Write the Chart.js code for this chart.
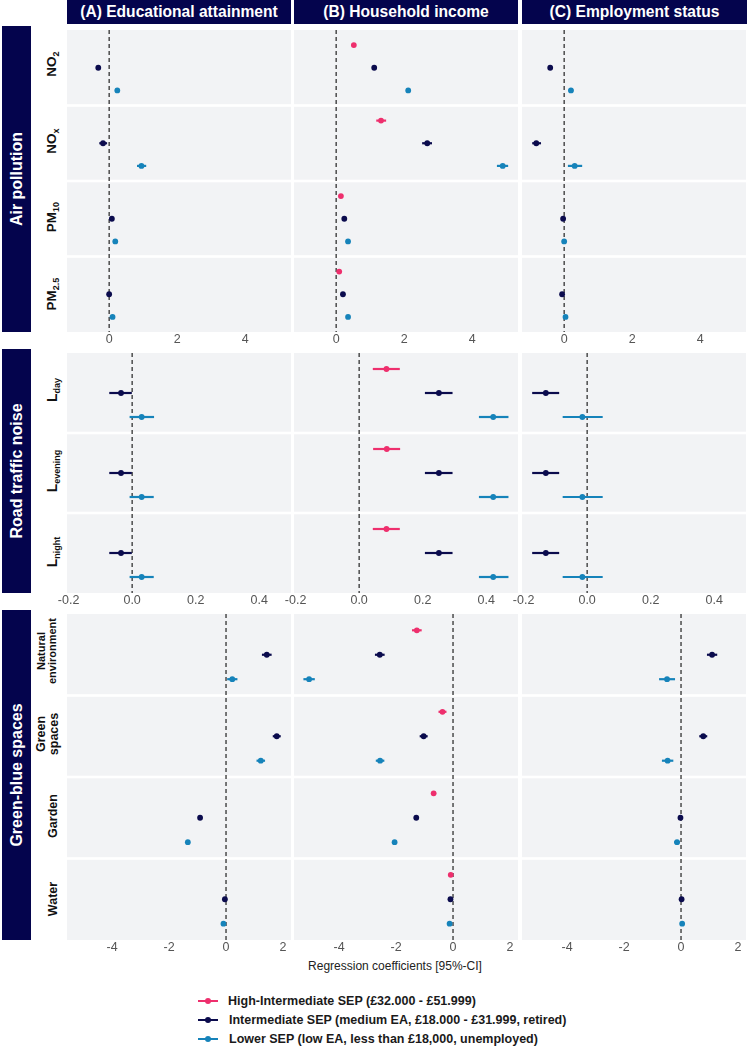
<!DOCTYPE html>
<html>
<head>
<meta charset="utf-8">
<script src="https://cdn.jsdelivr.net/npm/chart.js@4.4.1/dist/chart.umd.min.js"></script>
<style>
  body { margin: 0; background: #fff; }
  #root { position: relative; width: 750px; height: 1048px; overflow: hidden;
          font-family: "Liberation Sans", Arial, Helvetica, sans-serif; color: #1a1a1a; }
  .hdr { position: absolute; top: 0; height: 24px; background: #04044d; color: #fff;
         font-weight: bold; font-size: 15.6px; display: flex; align-items: center; justify-content: center; }
  .strip { position: absolute; left: 2px; width: 29px; background: #04044d; }
  .rot { position: absolute; transform: translate(-50%, -50%) rotate(-90deg); white-space: nowrap;
         text-align: center; font-weight: bold; }
  .sub { font-size: 9px; vertical-align: -3px; }
  canvas { position: absolute; }
  .leg { position: absolute; left: 198px; height: 19px; line-height: 19px; font-size: 12.5px; font-weight: bold; white-space: nowrap; }
  .legline { position: absolute; left: 0; top: 8.5px; width: 20px; height: 2px; }
  .legdot { position: absolute; left: 7px; top: 6.5px; width: 6px; height: 6px; border-radius: 50%; }
</style>
</head>
<body>
<div id="root"></div>
<script>
// ---------------- DATA ----------------
const SERIES_NAMES = [
  "High-Intermediate SEP (£32.000 - £51.999)",
  "Intermediate SEP (medium EA, £18.000 - £31.999, retired)",
  "Lower SEP (low EA, less than £18,000, unemployed)"
];
const SERIES_COLORS = ["#ee2f6d", "#0b0b4d", "#1683ba"];
const COLUMN_TITLES = ["(A) Educational attainment", "(B) Household income", "(C) Employment status"];
const GROUP_TITLES = ["Air pollution", "Road traffic noise", "Green-blue spaces"];

const AIR_ROWS = ["NO<span class='sub'>2</span>", "NO<span class='sub'>x</span>", "PM<span class='sub'>10</span>", "PM<span class='sub'>2.5</span>"];
const NOISE_ROWS = ["L<span class='sub'>day</span>", "L<span class='sub'>evening</span>", "L<span class='sub'>night</span>"];
const GREEN_ROWS = ["Natural<br>environment", "Green<br>spaces", "Garden", "Water"];

const AIR_TICKS = [0, 2, 4];
const NOISE_TICKS = [-0.2, 0.0, 0.2, 0.4];
const GREEN_TICKS = [-4, -2, 0, 2];

const AIR_RANGE = [-1.24, 5.35];
const NOISE_RANGE = [-0.205, 0.50];
const GREEN_RANGE = [-5.58, 2.28];

// each entry: [estimate, lower 95% CI, upper 95% CI]; null = not estimated
const AIR_EDU_HIGH = null;
const AIR_EDU_INTER = [[-0.32, -0.37, -0.27], [-0.18, -0.29, -0.06], [0.08, 0.05, 0.11], [0.00, -0.03, 0.03]];
const AIR_EDU_LOWER = [[0.24, 0.19, 0.29], [0.95, 0.82, 1.09], [0.18, 0.15, 0.21], [0.10, 0.07, 0.13]];
const AIR_INC_HIGH = [[0.52, 0.47, 0.57], [1.32, 1.18, 1.47], [0.14, 0.11, 0.17], [0.09, 0.06, 0.12]];
const AIR_INC_INTER = [[1.12, 1.07, 1.17], [2.68, 2.53, 2.82], [0.24, 0.21, 0.27], [0.20, 0.17, 0.23]];
const AIR_INC_LOWER = [[2.12, 2.07, 2.17], [4.90, 4.73, 5.06], [0.35, 0.32, 0.38], [0.35, 0.32, 0.38]];
const AIR_EMP_HIGH = null;
const AIR_EMP_INTER = [[-0.41, -0.46, -0.36], [-0.82, -0.94, -0.68], [-0.03, -0.06, 0.00], [-0.06, -0.09, -0.03]];
const AIR_EMP_LOWER = [[0.20, 0.13, 0.27], [0.31, 0.11, 0.53], [0.00, -0.04, 0.04], [0.04, 0.00, 0.08]];

const NOISE_EDU_HIGH = null;
const NOISE_EDU_INTER = [[-0.035, -0.072, -0.001], [-0.035, -0.072, -0.001], [-0.035, -0.072, -0.001]];
const NOISE_EDU_LOWER = [[0.030, -0.008, 0.069], [0.030, -0.008, 0.068], [0.030, -0.008, 0.068]];
const NOISE_INC_HIGH = [[0.086, 0.043, 0.128], [0.087, 0.044, 0.129], [0.086, 0.043, 0.128]];
const NOISE_INC_INTER = [[0.251, 0.207, 0.294], [0.251, 0.207, 0.294], [0.251, 0.207, 0.294]];
const NOISE_INC_LOWER = [[0.422, 0.377, 0.470], [0.422, 0.377, 0.470], [0.422, 0.377, 0.470]];
const NOISE_EMP_HIGH = null;
const NOISE_EMP_INTER = [[-0.130, -0.173, -0.088], [-0.130, -0.173, -0.088], [-0.130, -0.173, -0.088]];
const NOISE_EMP_LOWER = [[-0.015, -0.077, 0.049], [-0.015, -0.077, 0.049], [-0.015, -0.077, 0.049]];

const GREEN_EDU_HIGH = null;
const GREEN_EDU_INTER = [[1.43, 1.26, 1.60], [1.78, 1.64, 1.92], [-0.91, -0.96, -0.86], [-0.04, -0.09, 0.01]];
const GREEN_EDU_LOWER = [[0.22, 0.04, 0.40], [1.22, 1.07, 1.37], [-1.34, -1.39, -1.29], [-0.09, -0.14, -0.04]];
const GREEN_INC_HIGH = [[-1.27, -1.44, -1.10], [-0.37, -0.51, -0.23], [-0.68, -0.73, -0.63], [-0.08, -0.13, -0.03]];
const GREEN_INC_INTER = [[-2.57, -2.74, -2.40], [-1.03, -1.17, -0.89], [-1.29, -1.34, -1.24], [-0.09, -0.14, -0.04]];
const GREEN_INC_LOWER = [[-5.05, -5.25, -4.85], [-2.56, -2.71, -2.41], [-2.05, -2.10, -2.00], [-0.12, -0.17, -0.07]];
const GREEN_EMP_HIGH = null;
const GREEN_EMP_INTER = [[1.09, 0.91, 1.27], [0.78, 0.64, 0.92], [-0.02, -0.07, 0.03], [0.02, -0.03, 0.07]];
const GREEN_EMP_LOWER = [[-0.49, -0.77, -0.21], [-0.47, -0.67, -0.27], [-0.14, -0.24, -0.04], [0.04, -0.01, 0.09]];

// ---------------- LAYOUT ----------------
const PANEL_LEFT = [67, 294, 522];
const PANEL_W = 224;
const PADX = 24;
const TICKH = 18;
const SERIES_OFFSET = [0.2, 0.5, 0.8];

const GROUPS = [
  { top: 26, height: 306, rows: AIR_ROWS, range: AIR_RANGE, ticks: AIR_TICKS, fmt: v => String(v),
    series: [[AIR_EDU_HIGH, AIR_EDU_INTER, AIR_EDU_LOWER], [AIR_INC_HIGH, AIR_INC_INTER, AIR_INC_LOWER], [AIR_EMP_HIGH, AIR_EMP_INTER, AIR_EMP_LOWER]],
    labelSize: 13.5 },
  { top: 349, height: 244, rows: NOISE_ROWS, range: NOISE_RANGE, ticks: NOISE_TICKS, fmt: v => v.toFixed(1),
    series: [[NOISE_EDU_HIGH, NOISE_EDU_INTER, NOISE_EDU_LOWER], [NOISE_INC_HIGH, NOISE_INC_INTER, NOISE_INC_LOWER], [NOISE_EMP_HIGH, NOISE_EMP_INTER, NOISE_EMP_LOWER]],
    labelSize: 14 },
  { top: 610, height: 330, rows: GREEN_ROWS, range: GREEN_RANGE, ticks: GREEN_TICKS, fmt: v => String(v),
    series: [[GREEN_EDU_HIGH, GREEN_EDU_INTER, GREEN_EDU_LOWER], [GREEN_INC_HIGH, GREEN_INC_INTER, GREEN_INC_LOWER], [GREEN_EMP_HIGH, GREEN_EMP_INTER, GREEN_EMP_LOWER]],
    labelSize: 12.5 }
];

const root = document.getElementById('root');

function addDiv(cls, style, html) {
  const d = document.createElement('div');
  if (cls) d.className = cls;
  Object.assign(d.style, style);
  if (html !== undefined) d.innerHTML = html;
  root.appendChild(d);
  return d;
}

// column headers
COLUMN_TITLES.forEach((t, c) => addDiv('hdr', { left: PANEL_LEFT[c] + 'px', width: (PANEL_W + (c === 2 ? 1 : 0)) + 'px' }, t));

const panelPlugin = {
  id: 'panelbg',
  beforeDraw(chart) {
    const { ctx, chartArea: a, scales: { y } } = chart;
    const n = chart.options.plugins.panelbg.rows;
    ctx.save();
    ctx.fillStyle = '#f2f3f5';
    ctx.fillRect(a.left, a.top, a.right - a.left, a.bottom - a.top);
    ctx.fillStyle = '#ffffff';
    for (let k = 1; k < n; k++) {
      const py = y.getPixelForValue(k);
      ctx.fillRect(a.left, py - 1.3, a.right - a.left, 2.6);
    }
    ctx.restore();
  },
  beforeDatasetsDraw(chart) {
    const { ctx, chartArea: a, scales: { x, y } } = chart;
    ctx.save();
    // zero reference line
    const x0 = x.getPixelForValue(0);
    ctx.strokeStyle = '#222';
    ctx.lineWidth = 1.2;
    ctx.setLineDash([4, 3]);
    ctx.beginPath();
    ctx.moveTo(x0, a.top);
    ctx.lineTo(x0, a.bottom);
    ctx.stroke();
    ctx.setLineDash([]);
    // confidence intervals
    chart.data.datasets.forEach(ds => {
      ctx.strokeStyle = ds.backgroundColor;
      ctx.lineWidth = 2.2;
      ds.data.forEach(p => {
        const py = y.getPixelForValue(p.y);
        ctx.beginPath();
        ctx.moveTo(x.getPixelForValue(p.lo), py);
        ctx.lineTo(x.getPixelForValue(p.hi), py);
        ctx.stroke();
      });
    });
    ctx.restore();
  }
};

GROUPS.forEach((g, gi) => {
  // group strip
  addDiv('strip', { top: g.top + 'px', height: g.height + 'px' });
  addDiv('rot', { left: '17px', top: (g.top + g.height / 2) + 'px', color: '#fff', fontSize: '16px' }, GROUP_TITLES[gi]);
  // row labels
  const rowH = g.height / g.rows.length;
  g.rows.forEach((r, k) => {
    const twoLine = r.indexOf('<br>') >= 0;
    addDiv('rot', {
      left: (twoLine ? 47 : 53) + 'px', top: (g.top + (k + 0.5) * rowH) + 'px',
      fontSize: (twoLine && k === 0 ? 11 : g.labelSize) + 'px', lineHeight: twoLine ? '1.0' : '1.2', color: '#111'
    }, r);
  });
  // panels
  g.series.forEach((colSeries, c) => {
    const cv = document.createElement('canvas');
    cv.width = PANEL_W + 2 * PADX;
    cv.height = g.height + TICKH;
    cv.style.left = (PANEL_LEFT[c] - PADX) + 'px';
    cv.style.top = g.top + 'px';
    root.appendChild(cv);
    const datasets = [];
    colSeries.forEach((arr, s) => {
      if (!arr) return;
      datasets.push({
        label: SERIES_NAMES[s],
        data: arr.map((v, k) => ({ x: v[0], y: k + SERIES_OFFSET[s], lo: v[1], hi: v[2] })),
        backgroundColor: SERIES_COLORS[s],
        borderColor: SERIES_COLORS[s],
        pointRadius: 2.9,
        pointBorderWidth: 0,
        clip: false
      });
    });
    new Chart(cv, {
      type: 'scatter',
      data: { datasets },
      options: {
        responsive: false,
        animation: false,
        devicePixelRatio: 1,
        layout: { padding: { left: PADX, right: PADX, top: 0, bottom: 0 } },
        plugins: { legend: { display: false }, tooltip: { enabled: false }, panelbg: { rows: g.rows.length } },
        scales: {
          x: {
            type: 'linear', min: g.range[0], max: g.range[1],
            grid: { display: false, drawTicks: false },
            border: { display: false },
            afterBuildTicks: sc => { sc.ticks = g.ticks.map(v => ({ value: v })); },
            afterFit: sc => { sc.height = TICKH; },
            ticks: {
              autoSkip: false, maxRotation: 0, minRotation: 0, padding: 0,
              color: '#555555',
              font: { size: 12.5, family: '"Liberation Sans", Arial, sans-serif' },
              callback: v => g.fmt(v)
            }
          },
          y: { type: 'linear', min: 0, max: g.rows.length, reverse: true, display: false }
        }
      },
      plugins: [panelPlugin]
    });
  });
});

// x axis title
addDiv(null, { position: 'absolute', left: '195px', width: '400px', top: '959px', textAlign: 'center', fontSize: '12px', color: '#222' },
  'Regression coefficients [95%-CI]');

// legend
const LEG_Y = [1001, 1020, 1039];
SERIES_NAMES.forEach((n, s) => {
  const d = addDiv('leg', { top: (LEG_Y[s] - 9.5) + 'px' });
  const ln = document.createElement('div'); ln.className = 'legline'; ln.style.background = SERIES_COLORS[s]; d.appendChild(ln);
  const dt = document.createElement('div'); dt.className = 'legdot'; dt.style.background = SERIES_COLORS[s]; d.appendChild(dt);
  const tx = document.createElement('span'); tx.style.marginLeft = (s === 0 ? 30 : 31) + 'px'; tx.textContent = n; d.appendChild(tx);
});
</script>
</body>
</html>
